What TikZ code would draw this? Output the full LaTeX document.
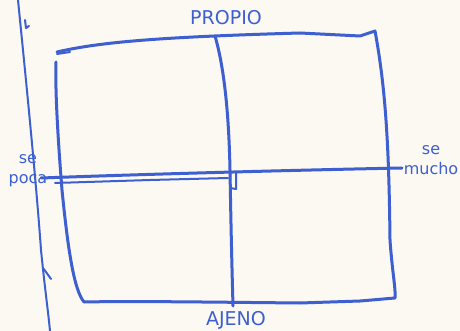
\documentclass[tikz,border=0pt]{standalone}
\usepackage{fontspec}
\setmainfont{DejaVu Sans}
\definecolor{ink}{HTML}{3D5FD0}
\definecolor{paper}{HTML}{FBF9F1}
\begin{document}
\begin{tikzpicture}[x=1pt,y=-1pt,
  pen/.style={draw=ink,line width=3pt,line cap=round,line join=round},
  thinpen/.style={draw=ink,line width=2pt,line cap=round,line join=round},
  lbl/.style={text=ink,font=\fontsize{16}{20}\selectfont,inner sep=0pt},
  caps/.style={text=ink,font=\fontsize{19}{19}\selectfont,inner sep=0pt}]
\fill[paper] (0,0) rectangle (460,331);
\useasboundingbox (0,0) rectangle (460,331);
% margin line
\draw[thinpen] (18,0) .. controls (26,80) and (36,180) .. (41,250) .. controls (45,290) and (48,310) .. (50,331);
\draw[thinpen] (25,20) -- (26,28) -- (29,26);
\draw[thinpen] (43,268) -- (46,272) -- (51,279);
% frame
\coordinate (tl) at (57,52);
\coordinate (tr) at (375,31);
\coordinate (br) at (395,298);
\coordinate (bl) at (84,302);
\draw[pen] (tl) .. controls (100,42) and (160,37) .. (300,33) -- (360,36) -- (tr)
  .. controls (386,90) and (389,150) .. (390,240) .. controls (392,270) and (396,290) .. (br)
  -- (360,301) -- (300,303) .. controls (200,302) and (130,301) .. (bl)
  .. controls (74,290) and (68,250) .. (62,190) .. controls (58,140) and (55,90) .. (56,62);
\draw[thinpen] (57,54) -- (70,52);
% axes
\node[caps] (propio) at (226,18) {PROPIO};
\node[caps] (ajeno) at (236,320) {AJENO};
\node[lbl,align=center] (poco) at (28,171) {se\\poca};
\node[lbl,align=center] (mucho) at (431,160) {se\\mucho};
\draw[pen] (215,36) .. controls (225,70) and (229,120) .. (230,170) .. controls (231,230) and (232,270) .. (233,306);
\draw[pen] (41,178) .. controls (150,174) and (300,170) .. (402,168);
\draw[thinpen] (55,183) -- (150,180) -- (228,178);
\draw[thinpen] (230,172) -- (230,188) -- (236,189) -- (236,172);
\end{tikzpicture}
\end{document}
